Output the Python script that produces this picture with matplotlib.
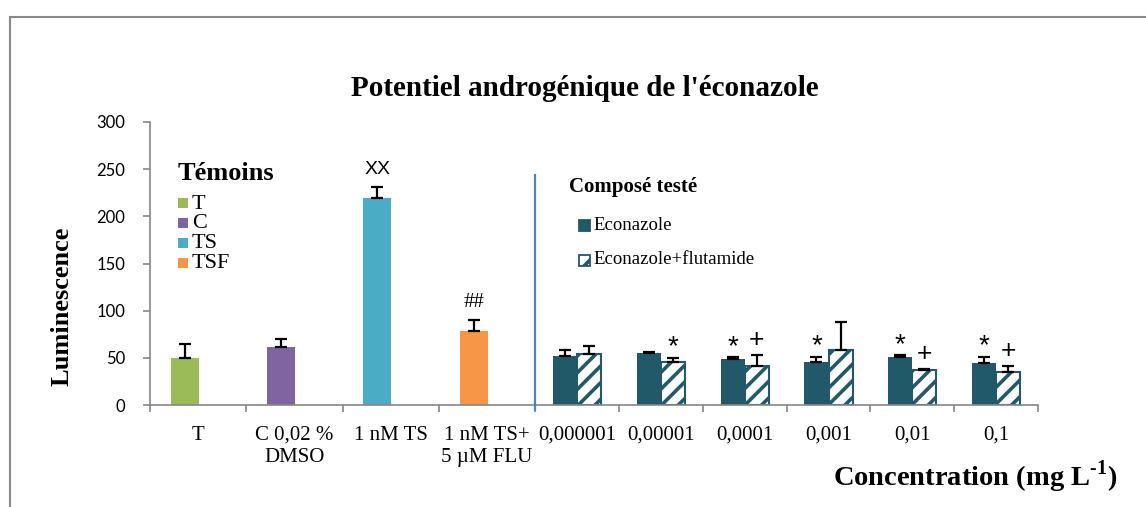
import matplotlib
matplotlib.use("Agg")
import matplotlib.pyplot as plt
from matplotlib.patches import Rectangle
from matplotlib.lines import Line2D

plt.rcParams["font.family"] = ["Liberation Serif", "DejaVu Serif"]
plt.rcParams["mathtext.fontset"] = "custom"
plt.rcParams["mathtext.rm"] = "Liberation Serif"
plt.rcParams["mathtext.bf"] = "Liberation Serif:bold"
plt.rcParams["hatch.linewidth"] = 2.6

# Controls (one bar per category)
ctrl_labels = ["T", "C 0,02 %\nDMSO", "1 nM TS", "1 nM TS+\n5 µM FLU"]
ctrl_legend = ["T", "C", "TS", "TSF"]
ctrl_values = [49.5, 61.5, 219, 78]
ctrl_err = [15.5, 8.5, 12, 12]
ctrl_marks = ["", "", "XX", "##"]
ctrl_colors = ["#9BBB59", "#8064A2", "#4BACC6", "#F79646"]

# Tested compound, with and without flutamide
conc_labels = ["0,000001", "0,00001", "0,0001", "0,001", "0,01", "0,1"]
econ_values = [52, 55, 49, 46, 50.5, 44.5]
econ_err = [6, 1, 1.5, 5, 2, 6.5]
econ_marks = ["", "", "*", "*", "*", "*"]
flu_values = [54.5, 45.5, 41, 58.5, 37, 35.5]
flu_err = [8.5, 4.5, 12, 29.5, 1, 6]
flu_marks = ["", "*", "+", "", "+", "+"]

TEAL = "#215968"
GREY = "#868686"
W, H = 1146, 507


def fx(px):
    return px / W


def fy(py):
    return 1 - py / H


fig = plt.figure(figsize=(W / 100, H / 100), dpi=100)
ax = fig.add_axes([fx(150), fy(405), 888 / W, 283 / H])

# left block: width 1 per category, right block: narrower categories
cw = 0.87
ctrl_centers = [i + 0.5 for i in range(len(ctrl_values))]
conc_centers = [4 + cw * (j + 0.5) for j in range(len(conc_labels))]

ebar = dict(fmt="none", ecolor="black", elinewidth=1.6, capsize=4.3,
            capthick=1.6, zorder=3)

bw = 0.29
ctrl_x = [c - 0.14 for c in ctrl_centers]
ax.bar(ctrl_x, ctrl_values, width=bw, color=ctrl_colors, zorder=2)
ax.errorbar(ctrl_x, ctrl_values, yerr=[[0] * 4, ctrl_err], **ebar)

rw = 0.25
econ_x = [c - rw / 2 for c in conc_centers]
flu_x = [c + rw / 2 for c in conc_centers]
ax.bar(econ_x, econ_values, width=rw, color=TEAL, zorder=2)
ax.bar(flu_x, flu_values, width=rw, color="white", edgecolor=TEAL,
       hatch="//", linewidth=1.5, zorder=2)
ax.errorbar(econ_x, econ_values, yerr=[[0] * 6, econ_err], **ebar)
ax.errorbar(flu_x, flu_values, yerr=[[0] * 6, flu_err], **ebar)

# significance marks above the error bars
for x, v, e, m in zip(ctrl_x, ctrl_values, ctrl_err, ctrl_marks):
    if m == "XX":
        ax.text(x, v + e + 19, m, ha="center", va="center", fontsize=14,
                family="Liberation Sans")
    elif m:
        ax.text(x, v + e + 19, m, ha="center", va="center", fontsize=15)
for xs, vals, errs, marks in [(econ_x, econ_values, econ_err, econ_marks),
                              (flu_x, flu_values, flu_err, flu_marks)]:
    for x, v, e, m in zip(xs, vals, errs, marks):
        if m == "*":
            ax.text(x, v + e + 11, m, ha="center", va="center", fontsize=20,
                    family="Liberation Sans")
        elif m == "+":
            ax.text(x, v + e + 16, m, ha="center", va="center", fontsize=19,
                    family="Liberation Sans")

# separator between controls and tested compound
ax.plot([4, 4], [-5, 244], color="#4F81BD", lw=1.6, clip_on=False, zorder=4)

ax.set_ylim(0, 300)
ax.set_xlim(0, 4 + cw * 6)
ax.set_yticks(range(0, 301, 50))
ax.tick_params(axis="y", labelsize=12, colors=GREY, length=5, width=1.2,
               labelcolor="black", pad=13)
for lab in ax.get_yticklabels():
    lab.set_family("Lato")

bounds = [0, 1, 2, 3, 4] + [4 + cw * (j + 1) for j in range(6)]
ax.set_xticks(bounds)
ax.set_xticklabels([])
ax.tick_params(axis="x", which="major", colors=GREY, length=5, width=1.2)
ax.set_xticks(ctrl_centers + conc_centers, minor=True)
ax.set_xticklabels(ctrl_labels + conc_labels, minor=True, fontsize=15,
                   linespacing=1.25)
ax.tick_params(axis="x", which="minor", length=0, pad=15)

for s in ["top", "right"]:
    ax.spines[s].set_visible(False)
for s in ["left", "bottom"]:
    ax.spines[s].set_color(GREY)
    ax.spines[s].set_linewidth(1.2)

# legend for the controls
fig.text(fx(178), fy(173), "Témoins", ha="left", va="center",
         fontsize=19, weight="bold")
for k, (lab, col) in enumerate(zip(ctrl_legend, ctrl_colors)):
    yc = 203 + 20 * k
    fig.add_artist(Rectangle((fx(178), fy(yc + 5)), 10 / W, 10 / H,
                             transform=fig.transFigure, facecolor=col,
                             edgecolor="none"))
    fig.text(fx(192), fy(yc + 1), lab, ha="left", va="center", fontsize=16)

# legend for the tested compound
fig.text(fx(569), fy(187), "Composé testé", ha="left", va="center",
         fontsize=15, weight="bold")
comp_handles = [dict(facecolor=TEAL, edgecolor=TEAL),
                dict(facecolor="white", edgecolor=TEAL, hatch="//")]
for k, (lab, hs) in enumerate(zip(["Econazole", "Econazole+flutamide"],
                                   comp_handles)):
    yc = 225 + 35 * k
    fig.add_artist(Rectangle((fx(579), fy(yc + 5.5)), 11 / W, 11 / H,
                             transform=fig.transFigure, linewidth=1.3, **hs))
    fig.text(fx(593), fy(yc), lab, ha="left", va="center", fontsize=13.5)

fig.text(fx(585), fy(88), "Potentiel androgénique de l'éconazole",
         ha="center", va="center", fontsize=21, weight="bold")
fig.text(fx(62), fy(306), "Luminescence", rotation=90,
         ha="center", va="center", fontsize=19, weight="bold")
fig.text(fx(1117), fy(477), "Concentration (mg L$^{\\mathbf{\u2010}\\mathbf{1}}$)",
         ha="right", va="center", fontsize=20.5, weight="bold")

# outer frame
fig.add_artist(Line2D([fx(10), 1], [fy(17)] * 2, color="#888888", lw=1.5))
fig.add_artist(Line2D([fx(10)] * 2, [0, fy(17)], color="#888888", lw=1.5))

fig.savefig("out.png", dpi=100)
